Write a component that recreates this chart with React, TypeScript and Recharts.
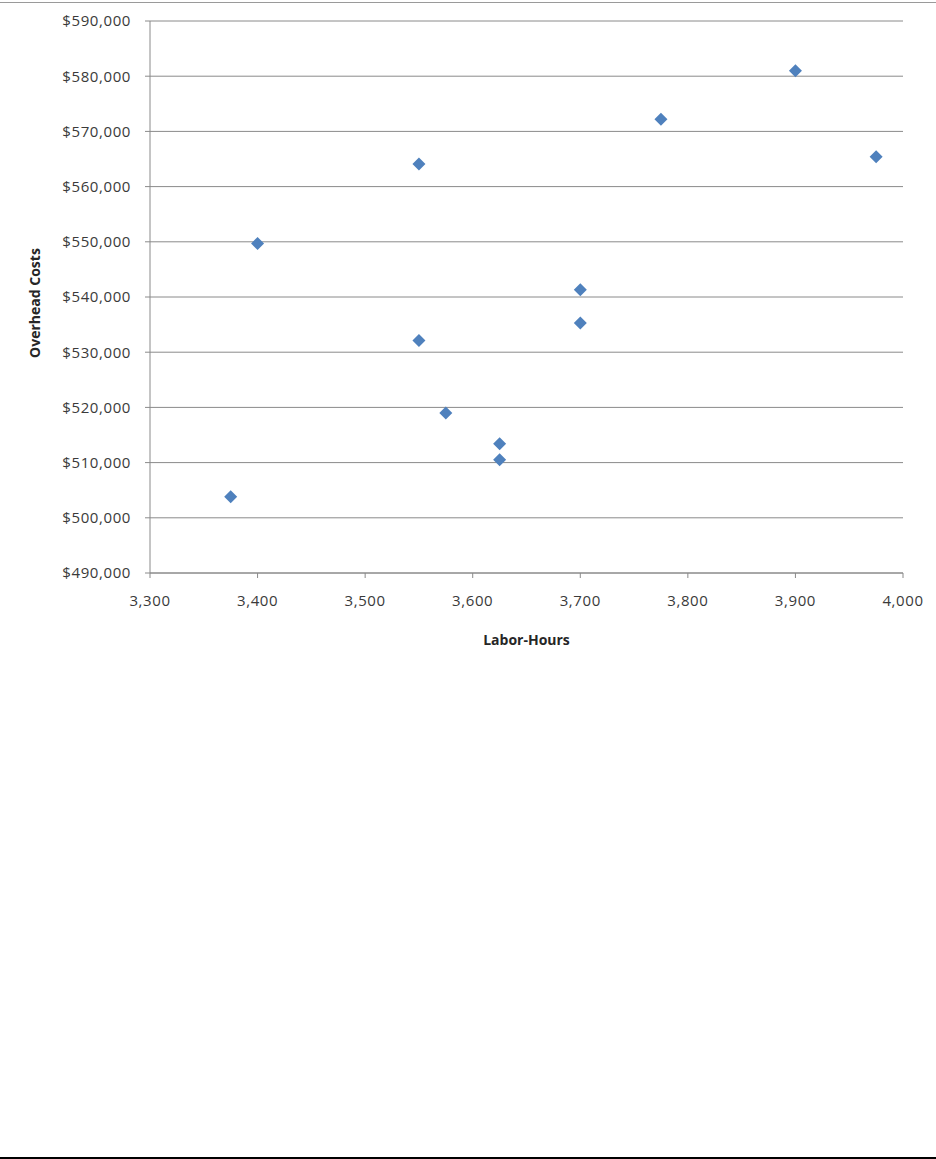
import React from "react";
import {
  ScatterChart,
  Scatter,
  XAxis,
  YAxis,
  CartesianGrid,
} from "recharts";

// labor hours vs overhead cost
const laborHours = [3375, 3400, 3550, 3550, 3575, 3625, 3625, 3700, 3700, 3775, 3900, 3975];
const overheadCosts = [503800, 549700, 564100, 532100, 519000, 513400, 510500, 541300, 535300, 572200, 581000, 565400];

const xTicks = [3300, 3400, 3500, 3600, 3700, 3800, 3900, 4000];
const yTicks = [490000, 500000, 510000, 520000, 530000, 540000, 550000, 560000, 570000, 580000, 590000];

const data = laborHours.map((h, i) => ({ hours: h, cost: overheadCosts[i] }));

const FONT = "'Open Sans', sans-serif";
const GRID = "#8a8a8a";
const MARKER = "#4f81bd";

const Diamond = (props: any) => {
  const { cx, cy } = props;
  const r = 6.5;
  return (
    <polygon
      points={`${cx},${cy - r} ${cx + r},${cy} ${cx},${cy + r} ${cx - r},${cy}`}
      fill={MARKER}
    />
  );
};

const tickStyle = { fill: "#3a3a3a", fontSize: 15, fontFamily: FONT, letterSpacing: 0.6 };
const titleStyle = { fontWeight: 700, fontSize: 14, fill: "#262626", fontFamily: FONT };

const App: React.FC = () => (
  <div
    style={{
      position: "absolute",
      left: 0,
      top: 0,
      width: 936,
      height: 1159,
      background: "#fff",
      fontFamily: FONT,
    }}
  >
    <div style={{ position: "absolute", left: 0, top: 2, width: 936, height: 1, background: "#9a9a9a" }} />
    <div style={{ position: "absolute", left: 0, top: 0 }}>
      <ScatterChart
        width={936}
        height={660}
        margin={{ top: 21, right: 33, left: 0, bottom: 0 }}
      >
        <CartesianGrid vertical={false} stroke={GRID} />
        <XAxis
          type="number"
          dataKey="hours"
          domain={[3300, 4000]}
          ticks={xTicks}
          height={87}
          tickSize={5}
          tickMargin={17}
          stroke={GRID}
          tickLine={{ stroke: GRID }}
          tick={tickStyle}
          tickFormatter={(v: number) => v.toLocaleString("en-US")}
          label={{
            value: "Labor-Hours",
            position: "insideBottom",
            offset: 15,
            style: titleStyle,
          }}
        />
        <YAxis
          type="number"
          dataKey="cost"
          domain={[490000, 590000]}
          ticks={yTicks}
          width={150}
          tickSize={5}
          tickMargin={14}
          stroke={GRID}
          tickLine={{ stroke: GRID }}
          tick={tickStyle}
          tickFormatter={(v: number) => "$" + v.toLocaleString("en-US")}
          label={{
            value: "Overhead Costs",
            angle: -90,
            position: "insideLeft",
            offset: 35,
            dy: 6,
            style: { ...titleStyle, textAnchor: "middle" },
          }}
        />
        <Scatter data={data} shape={Diamond} isAnimationActive={false} />
      </ScatterChart>
    </div>
    <div style={{ position: "absolute", left: 0, top: 1157, width: 936, height: 2, background: "#000" }} />
  </div>
);

export default App;
